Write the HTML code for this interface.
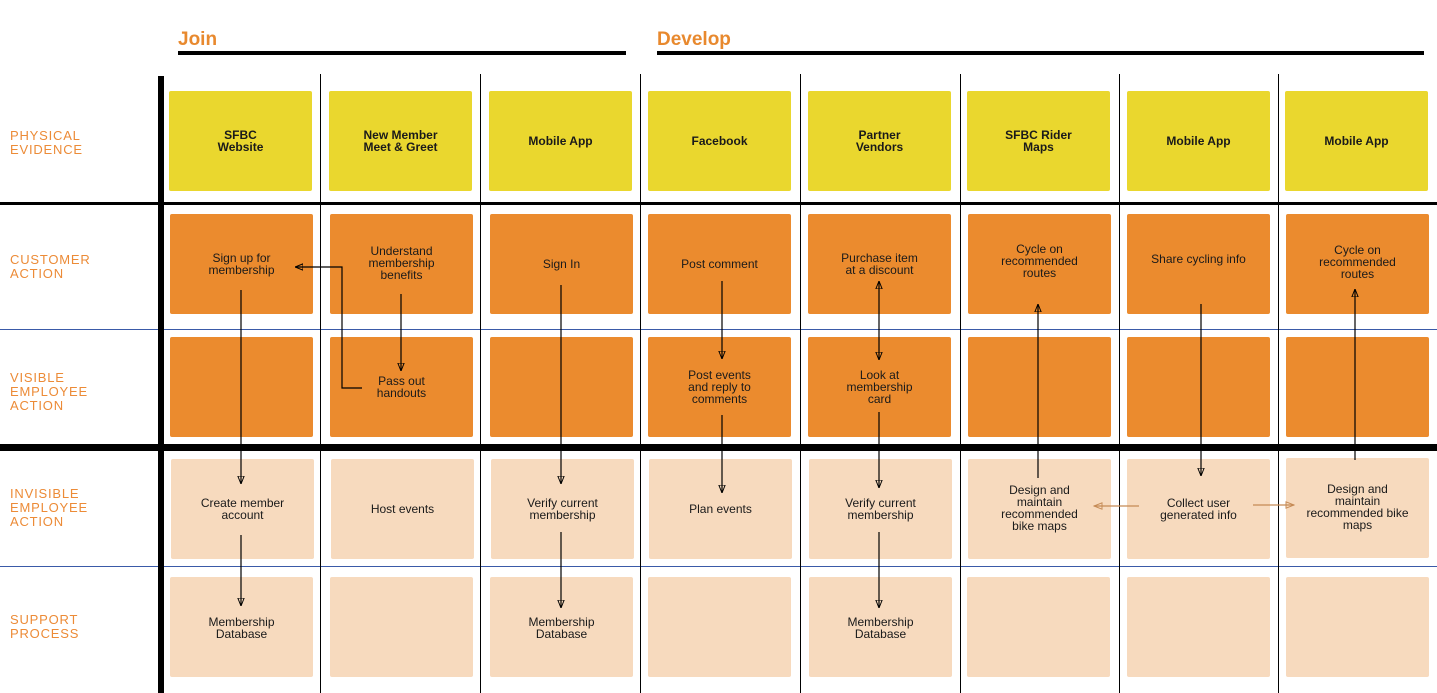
<!DOCTYPE html>
<html><head><meta charset="utf-8"><style>
body{margin:0;width:1437px;height:693px;background:#fff;position:relative;overflow:hidden;font-family:"Liberation Sans",sans-serif}
.b{position:absolute;border-radius:2px;display:flex;align-items:center;justify-content:center;text-align:center;font-size:12px;line-height:12px;color:#1a1a1a}
.y{background:#EAD72E;font-weight:bold}
.o{background:#EB8B2E}
.p{background:#F7DABE}
.l{position:absolute;left:10px;color:#EC8B37;font-size:13px;line-height:14px;letter-spacing:0.8px}
.h{position:absolute;color:#E8892E;font-size:19px;font-weight:bold}
.r{position:absolute;background:#000}
</style></head><body>
<div class="h" style="left:178px;top:29px">Join</div>
<div class="r" style="left:178px;top:51px;width:448px;height:4px"></div>
<div class="h" style="left:657px;top:29px">Develop</div>
<div class="r" style="left:657px;top:51px;width:767px;height:4px"></div>

<div class="l" style="top:129px">PHYSICAL<br>EVIDENCE</div>
<div class="l" style="top:253px">CUSTOMER<br>ACTION</div>
<div class="l" style="top:371px">VISIBLE<br>EMPLOYEE<br>ACTION</div>
<div class="l" style="top:487px">INVISIBLE<br>EMPLOYEE<br>ACTION</div>
<div class="l" style="top:613px">SUPPORT<br>PROCESS</div>

<div class="r" style="left:0;top:202px;width:1437px;height:3px"></div>
<div class="r" style="left:0;top:444px;width:1437px;height:7px"></div>
<div style="position:absolute;left:0;top:329px;width:1437px;height:1px;background:#3a5aa8"></div>
<div style="position:absolute;left:0;top:566px;width:1437px;height:1px;background:#3a5aa8"></div>
<div class="r" style="left:158px;top:76px;width:6px;height:617px"></div>
<div class="r" style="left:320px;top:74px;width:1px;height:619px"></div>
<div class="r" style="left:480px;top:74px;width:1px;height:619px"></div>
<div class="r" style="left:640px;top:74px;width:1px;height:619px"></div>
<div class="r" style="left:800px;top:74px;width:1px;height:619px"></div>
<div class="r" style="left:960px;top:74px;width:1px;height:619px"></div>
<div class="r" style="left:1119px;top:74px;width:1px;height:619px"></div>
<div class="r" style="left:1278px;top:74px;width:1px;height:619px"></div>

<div class="b y" style="left:169px;top:91px;width:143px;height:100px">SFBC<br>Website</div>
<div class="b y" style="left:329px;top:91px;width:143px;height:100px">New Member<br>Meet &amp; Greet</div>
<div class="b y" style="left:489px;top:91px;width:143px;height:100px">Mobile App</div>
<div class="b y" style="left:648px;top:91px;width:143px;height:100px">Facebook</div>
<div class="b y" style="left:808px;top:91px;width:143px;height:100px">Partner<br>Vendors</div>
<div class="b y" style="left:967px;top:91px;width:143px;height:100px">SFBC Rider<br>Maps</div>
<div class="b y" style="left:1127px;top:91px;width:143px;height:100px">Mobile App</div>
<div class="b y" style="left:1285px;top:91px;width:143px;height:100px">Mobile App</div>

<div class="b o" style="left:170px;top:214px;width:143px;height:100px">Sign up for<br>membership</div>
<div class="b o" style="left:330px;top:214px;width:143px;height:100px;padding-bottom:2px;box-sizing:border-box">Understand<br>membership<br>benefits</div>
<div class="b o" style="left:490px;top:214px;width:143px;height:100px">Sign In</div>
<div class="b o" style="left:648px;top:214px;width:143px;height:100px">Post comment</div>
<div class="b o" style="left:808px;top:214px;width:143px;height:100px">Purchase item<br>at a discount</div>
<div class="b o" style="left:968px;top:214px;width:143px;height:100px;padding-bottom:6px;box-sizing:border-box">Cycle on<br>recommended<br>routes</div>
<div class="b o" style="left:1127px;top:214px;width:143px;height:100px;padding-bottom:10px;box-sizing:border-box">Share cycling info</div>
<div class="b o" style="left:1286px;top:214px;width:143px;height:100px;padding-bottom:4px;box-sizing:border-box">Cycle on<br>recommended<br>routes</div>

<div class="b o" style="left:170px;top:337px;width:143px;height:100px"></div>
<div class="b o" style="left:330px;top:337px;width:143px;height:100px">Pass out<br>handouts</div>
<div class="b o" style="left:490px;top:337px;width:143px;height:100px"></div>
<div class="b o" style="left:648px;top:337px;width:143px;height:100px">Post events<br>and reply to<br>comments</div>
<div class="b o" style="left:808px;top:337px;width:143px;height:100px">Look at<br>membership<br>card</div>
<div class="b o" style="left:968px;top:337px;width:143px;height:100px"></div>
<div class="b o" style="left:1127px;top:337px;width:143px;height:100px"></div>
<div class="b o" style="left:1286px;top:337px;width:143px;height:100px"></div>

<div class="b p" style="left:171px;top:459px;width:143px;height:100px">Create member<br>account</div>
<div class="b p" style="left:331px;top:459px;width:143px;height:100px">Host events</div>
<div class="b p" style="left:491px;top:459px;width:143px;height:100px">Verify current<br>membership</div>
<div class="b p" style="left:649px;top:459px;width:143px;height:100px">Plan events</div>
<div class="b p" style="left:809px;top:459px;width:143px;height:100px">Verify current<br>membership</div>
<div class="b p" style="left:968px;top:459px;width:143px;height:100px;padding-bottom:2px;box-sizing:border-box">Design and<br>maintain<br>recommended<br>bike maps</div>
<div class="b p" style="left:1127px;top:459px;width:143px;height:100px">Collect user<br>generated info</div>
<div class="b p" style="left:1286px;top:458px;width:143px;height:100px;padding-bottom:2px;box-sizing:border-box">Design and<br>maintain<br>recommended bike<br>maps</div>

<div class="b p" style="left:170px;top:577px;width:143px;height:100px;padding-top:2px;box-sizing:border-box">Membership<br>Database</div>
<div class="b p" style="left:330px;top:577px;width:143px;height:100px"></div>
<div class="b p" style="left:490px;top:577px;width:143px;height:100px;padding-top:2px;box-sizing:border-box">Membership<br>Database</div>
<div class="b p" style="left:648px;top:577px;width:143px;height:100px"></div>
<div class="b p" style="left:809px;top:577px;width:143px;height:100px;padding-top:2px;box-sizing:border-box">Membership<br>Database</div>
<div class="b p" style="left:967px;top:577px;width:143px;height:100px"></div>
<div class="b p" style="left:1127px;top:577px;width:143px;height:100px"></div>
<div class="b p" style="left:1286px;top:577px;width:143px;height:100px"></div>

<svg width="1437" height="693" style="position:absolute;left:0;top:0">
<defs>
<marker id="a" viewBox="0 0 10 10" refX="10" refY="5" markerWidth="8" markerHeight="8" orient="auto-start-reverse" markerUnits="userSpaceOnUse"><path d="M0,1 L10,5 L0,9 Z" fill="none" stroke="#000" stroke-width="1.2"/></marker>
<marker id="c" viewBox="0 0 10 10" refX="10" refY="5" markerWidth="10" markerHeight="8" orient="auto" markerUnits="userSpaceOnUse"><path d="M0,1 L10,5 L0,9 Z" fill="none" stroke="#c58a55" stroke-width="1.2"/></marker>
</defs>
<g stroke="#000" stroke-width="1.2" fill="none">
<line x1="241" y1="290" x2="241" y2="484" marker-end="url(#a)"/>
<line x1="241" y1="535" x2="241" y2="606" marker-end="url(#a)"/>
<line x1="401" y1="294" x2="401" y2="371" marker-end="url(#a)"/>
<polyline points="362,388 342,388 342,267 295,267" marker-end="url(#a)"/>
<line x1="561" y1="285" x2="561" y2="484" marker-end="url(#a)"/>
<line x1="561" y1="532" x2="561" y2="608" marker-end="url(#a)"/>
<line x1="722" y1="281" x2="722" y2="359" marker-end="url(#a)"/>
<line x1="722" y1="415" x2="722" y2="493" marker-end="url(#a)"/>
<line x1="879" y1="281" x2="879" y2="360" marker-start="url(#a)" marker-end="url(#a)"/>
<line x1="879" y1="412" x2="879" y2="488" marker-end="url(#a)"/>
<line x1="879" y1="532" x2="879" y2="608" marker-end="url(#a)"/>
<line x1="1038" y1="478" x2="1038" y2="304" marker-end="url(#a)"/>
<line x1="1201" y1="304" x2="1201" y2="476" marker-end="url(#a)"/>
<line x1="1355" y1="460" x2="1355" y2="289" marker-end="url(#a)"/>
</g>
<g stroke="#c58a55" stroke-width="1.2">
<line x1="1139" y1="506" x2="1094" y2="506" marker-end="url(#c)"/>
<line x1="1253" y1="505" x2="1294" y2="505" marker-end="url(#c)"/>
</g>
</svg>
</body></html>
